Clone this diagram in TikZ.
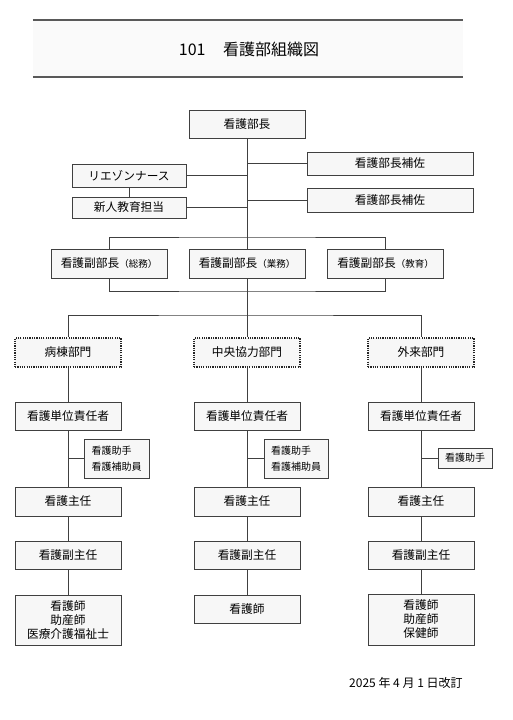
\documentclass[tikz,border=0pt]{standalone}
\usepackage{fontspec}
\setmainfont{Noto Sans CJK JP}
\begin{document}
\begin{tikzpicture}[x=1pt,y=-1pt,
  wh/.style 2 args={minimum width=#1, minimum height=#2},
  box/.style={draw=black!75, line width=0.9pt, fill=black!3, inner sep=0pt,
    font=\fontsize{11.7}{14}\selectfont, align=center},
  divbox/.style={box, draw=black!85, line width=1.5pt, dash pattern=on 1.2pt off 1.1pt},
  helper/.style={box, font=\fontsize{10}{16.5}\selectfont, align=left},
  conn/.style={draw=black!75, line width=0.9pt}
]
\useasboundingbox (0,0) rectangle (513,720);
% title band
\node[fill=black!2, minimum width=430, minimum height=57, inner sep=0pt] (tband) at (248,48.5) {};
\draw[black!65, line width=1.5pt] (tband.north west) -- (tband.north east);
\draw[black!65, line width=1.5pt] (tband.south west) -- (tband.south east);
\node[font=\fontsize{16}{18}\selectfont] (title) at (249,49) {101\hspace{1.1em}看護部組織図};

% top
\node[box, wh={116}{28}] (chief) at (247,124) {看護部長};
\node[box, wh={166}{23}] (asstA) at (390,163.5) {看護部長補佐};
\node[box, wh={166}{24}] (asstB) at (390,200) {看護部長補佐};
\node[box, wh={114}{23}] (liaison) at (129,175.5) {リエゾンナース};
\node[box, wh={114}{21}] (newedu) at (129,207.5) {新人教育担当};

% deputies
\node[box, wh={116}{29}] (dep1) at (109,263.5) {看護副部長{\fontsize{9.5}{10}\selectfont（総務）}};
\node[box, wh={116}{29}] (dep2) at (247,263.5) {看護副部長{\fontsize{9.5}{10}\selectfont（業務）}};
\node[box, wh={116}{29}] (dep3) at (385.5,263.5) {看護副部長{\fontsize{9.5}{10}\selectfont（教育）}};

\coordinate (jA) at (247,237);
\coordinate (jB) at (247,291);
\coordinate (jC) at (247,315);

% divisions
\node[divbox, wh={106}{29}] (div1) at (68,352.5) {病棟部門};
\node[divbox, wh={106}{29}] (div2) at (247,352.5) {中央協力部門};
\node[divbox, wh={106}{29}] (div3) at (421,352.5) {外来部門};

% columns
\node[box, wh={106}{28}] (unitL) at (68,416) {看護単位責任者};
\node[box, wh={106}{28}] (unitM) at (247,416) {看護単位責任者};
\node[box, wh={106}{28}] (unitR) at (421,416) {看護単位責任者};

\node[helper, wh={65}{39}] (helpL) at (116.5,458.5) {看護助手\\看護補助員};
\node[helper, wh={64}{39}] (helpM) at (296,458.5) {看護助手\\看護補助員};
\node[helper, wh={54}{20}] (helpR) at (465,458) {看護助手};

\node[box, wh={106}{29}] (headL) at (68,501.5) {看護主任};
\node[box, wh={106}{29}] (headM) at (247,501.5) {看護主任};
\node[box, wh={106}{29}] (headR) at (421,501.5) {看護主任};

\node[box, wh={106}{28}] (subL) at (68,555) {看護副主任};
\node[box, wh={106}{28}] (subM) at (247,555) {看護副主任};
\node[box, wh={106}{28}] (subR) at (421,555) {看護副主任};

\node[box, wh={106}{50}] (staffL) at (68,620) {看護師\\助産師\\医療介護福祉士};
\node[box, wh={106}{28}] (staffM) at (247,609) {看護師};
\node[box, wh={106}{51}] (staffR) at (421,619.5) {看護師\\助産師\\保健師};

\node[font=\fontsize{12}{13}\selectfont, anchor=west, inner sep=0pt] (date) at (349,683) {2025 年 4 月 1 日改訂};

% connectors
\draw[conn] (chief.south) -- (dep2.north);
\draw[conn] (asstA.west) -- (asstA.west -| chief.south);
\draw[conn] (asstB.west) -- (asstB.west -| chief.south);
\draw[conn] (liaison.east) -- (liaison.east -| chief.south);
\draw[conn] (newedu.east) -- (newedu.east -| chief.south);
\draw[conn] (liaison.south) -- (newedu.north);

\draw[conn] (dep1.north) |- (jA) -| (dep3.north);
\draw[conn] (dep1.south) |- (jB) -| (dep3.south);
\draw[conn] (dep2.south) -- (jC);
\draw[conn] (div1.north) |- (jC) -| (div3.north);
\draw[conn] (jC) -- (div2.north);

\draw[conn] (div1.south) -- (unitL.north);
\draw[conn] (div2.south) -- (unitM.north);
\draw[conn] (div3.south) -- (unitR.north);
\draw[conn] (unitL.south) -- (headL.north);
\draw[conn] (unitM.south) -- (headM.north);
\draw[conn] (unitR.south) -- (headR.north);
\draw[conn] (helpL.west) -- (helpL.west -| unitL.south);
\draw[conn] (helpM.west) -- (helpM.west -| unitM.south);
\draw[conn] (helpR.west) -- (helpR.west -| unitR.south);
\draw[conn] (headL.south) -- (subL.north);
\draw[conn] (headM.south) -- (subM.north);
\draw[conn] (headR.south) -- (subR.north);
\draw[conn] (subL.south) -- (staffL.north);
\draw[conn] (subM.south) -- (staffM.north);
\draw[conn] (subR.south) -- (staffR.north);
\end{tikzpicture}
\end{document}
